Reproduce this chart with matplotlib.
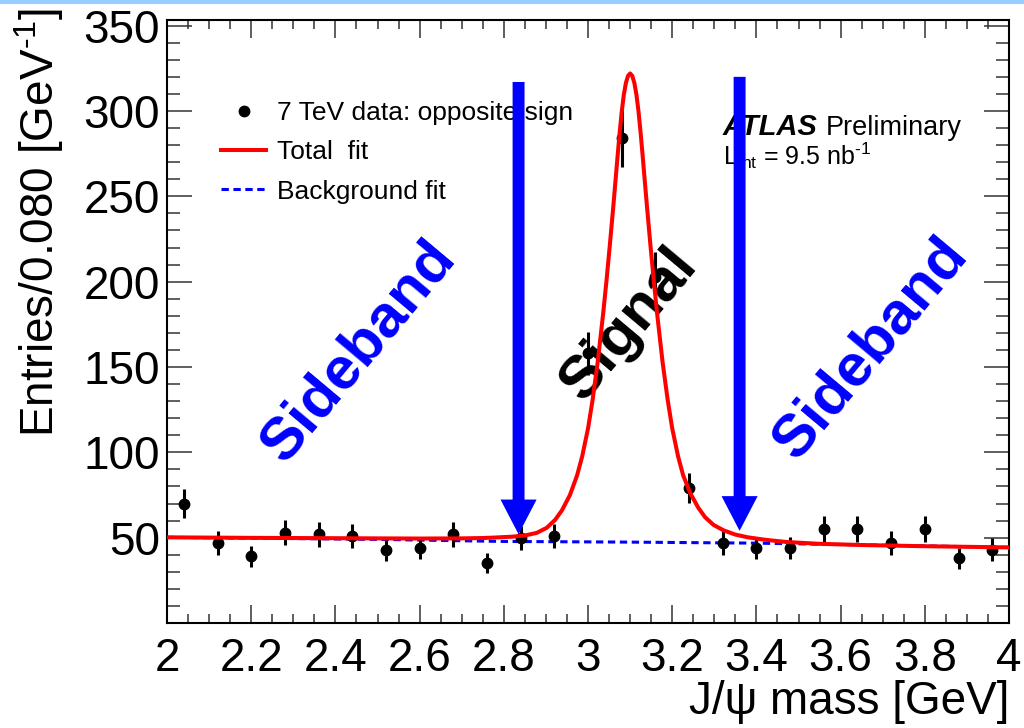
import numpy as np
import matplotlib.pyplot as plt
from matplotlib.patches import Rectangle

plt.rcParams['font.family'] = ['Liberation Sans', 'DejaVu Sans']
plt.rcParams['mathtext.fontset'] = 'custom'
plt.rcParams['mathtext.rm'] = 'Liberation Sans'
plt.rcParams['mathtext.default'] = 'regular'

# data points (bin centres, 0.08 GeV bins)
mass = [2.04, 2.12, 2.20, 2.28, 2.36, 2.44, 2.52, 2.60, 2.68, 2.76, 2.84, 2.92, 3.00,
        3.08, 3.16, 3.24, 3.32, 3.40, 3.48, 3.56, 3.64, 3.72, 3.80, 3.88, 3.96]
entries = [70, 47, 39, 53, 52, 51, 43, 44, 52, 35, 50, 51, 158,
           284, 203, 79, 47, 44, 44, 55, 55, 47, 55, 38, 43]

# total fit curve
fit_mass = [2.00, 2.20, 2.40, 2.60, 2.70, 2.75, 2.78, 2.82, 2.85, 2.878, 2.902, 2.922,
            2.938, 2.957, 2.974, 2.986, 3.000, 3.011, 3.023, 3.036, 3.044, 3.052,
            3.060, 3.065, 3.070, 3.075, 3.080, 3.085, 3.090, 3.095, 3.100,
            3.105, 3.110, 3.115, 3.120, 3.125, 3.130, 3.135, 3.140, 3.148, 3.156,
            3.164, 3.177, 3.189, 3.200, 3.214, 3.226, 3.243, 3.262, 3.278, 3.298,
            3.322, 3.35, 3.38, 3.42, 3.47, 3.55, 3.65, 3.80, 4.00]
fit_total = [50.2, 49.9, 49.7, 49.5, 49.6, 49.8, 50.1, 50.6, 51.3, 52.8, 55.8, 60.5,
             66, 75, 86.5, 97.5, 114, 131, 153, 181.5, 201, 222,
             244, 258.5, 273, 287, 299.5, 309.5, 316.5, 320.6, 322,
             320.6, 316.5, 309.5, 299.5, 287, 273, 258.5, 244, 222, 201,
             181.5, 153, 131, 114, 97.5, 86.5, 76, 67.5, 62, 57.5,
             54.3, 51.8, 50.2, 48.8, 47.5, 46.4, 45.7, 45.0, 44.3]

# background fit
bkg_mass = [2.0, 2.5, 2.8, 3.1, 3.4, 3.7, 4.0]
bkg_fit = [50.2, 49.0, 47.8, 47.4, 46.8, 45.6, 44.3]

# signal window arrows
arrow_mass = [2.835, 3.36]
arrow_top = [317, 320]
arrow_tip = [52, 54]

x_ticks = [2.0, 2.2, 2.4, 2.6, 2.8, 3.0, 3.2, 3.4, 3.6, 3.8, 4.0]
x_labels = ['2', '2.2', '2.4', '2.6', '2.8', '3', '3.2', '3.4', '3.6', '3.8', '4']
y_ticks = [50, 100, 150, 200, 250, 300, 350]

fig = plt.figure(figsize=(10.24, 7.28), dpi=100)
fig.add_artist(Rectangle((0, 1 - 4 / 728), 1, 4 / 728, transform=fig.transFigure,
                         color='#99ccff', lw=0))
ax = fig.add_axes([0.1631, 0.1442, 0.8223, 0.8283])

bkg_line, = ax.plot(bkg_mass, bkg_fit, color='#0000ff', lw=2.2, dashes=(2.4, 1.5),
                    zorder=2)
ax.errorbar(mass, entries, yerr=np.sqrt(entries), fmt='none', ecolor='black',
            elinewidth=2.2, capsize=0, zorder=3)
data_pts, = ax.plot(mass, entries, 'o', color='black', ms=7.5, zorder=3)
fit_line, = ax.plot(fit_mass, fit_total, color='#ff0000', lw=2.9,
                    solid_joinstyle='round', zorder=5)

# arrows
for xm, yt, yb in zip(arrow_mass, arrow_top, arrow_tip):
    ax.annotate('', xy=(xm, yb), xytext=(xm, yt),
                arrowprops=dict(width=8.6, headwidth=26, headlength=25, shrink=0,
                                color='#0000ff', lw=0),
                zorder=7)

# big labels
ax.text(2.454, 159, 'Sideband', color='#0000ff', fontsize=43, fontweight='bold',
        rotation=50, ha='center', va='center', zorder=4)
ax.text(3.672, 160.5, 'Sideband', color='#0000ff', fontsize=43, fontweight='bold',
        rotation=50, ha='center', va='center', zorder=4)
ax.text(3.097, 174.6, 'Signal', color='black', fontsize=43, fontweight='bold',
        rotation=50, ha='center', va='center', zorder=4)

leg = ax.legend([data_pts, fit_line, bkg_line],
                ['7 TeV data: opposite sign', 'Total  fit', 'Background fit'],
                loc='upper left', bbox_to_anchor=(221 / 1024, 1 - 101 / 728),
                bbox_transform=fig.transFigure, frameon=False, fontsize=19,
                borderpad=0, borderaxespad=0, handlelength=1.72, handletextpad=0.42,
                labelspacing=0.58)
leg.set_zorder(6)

ax.text(0.660, 0.809, 'ATLAS', transform=ax.transAxes, fontsize=21,
        fontweight='bold', fontstyle='italic', va='baseline')
ax.text(0.7824, 0.809, 'Preliminary', transform=ax.transAxes, fontsize=19.5,
        va='baseline')
ax.text(0.660, 0.760, r'L$_{int}$ = 9.5 nb$^{\text{-}1}$', transform=ax.transAxes,
        fontsize=18, va='baseline')

ax.set_xlim(2, 4)
ax.set_ylim(0, 353.3)
ax.set_xticks(x_ticks)
ax.set_xticklabels(x_labels)
ax.set_xticks(np.arange(2.0, 4.001, 0.05), minor=True)
ax.set_yticks(y_ticks)
ax.set_yticks(np.arange(10, 351, 10), minor=True)

ax.tick_params(axis='both', which='both', direction='in', top=True, right=True,
               width=1.1, color='#333333', labelsize=33)
ax.tick_params(axis='y', which='major', length=18, pad=5)
ax.tick_params(axis='y', which='minor', length=9.4)
ax.tick_params(axis='x', which='major', length=13, pad=10)
ax.tick_params(axis='x', which='minor', length=6.5)
for sp in ax.spines.values():
    sp.set_linewidth(1.5)

ax.set_xlabel('J/\u03c8 mass [GeV]', fontsize=33, ha='right')
ax.xaxis.set_label_coords(1.0, -0.095)
ax.set_ylabel(r'Entries/0.080 [GeV$^{\text{-}1}$]', fontsize=33, ha='right')
ax.yaxis.set_label_coords(-0.12, 1.02)

fig.savefig('out.png', dpi=100)
